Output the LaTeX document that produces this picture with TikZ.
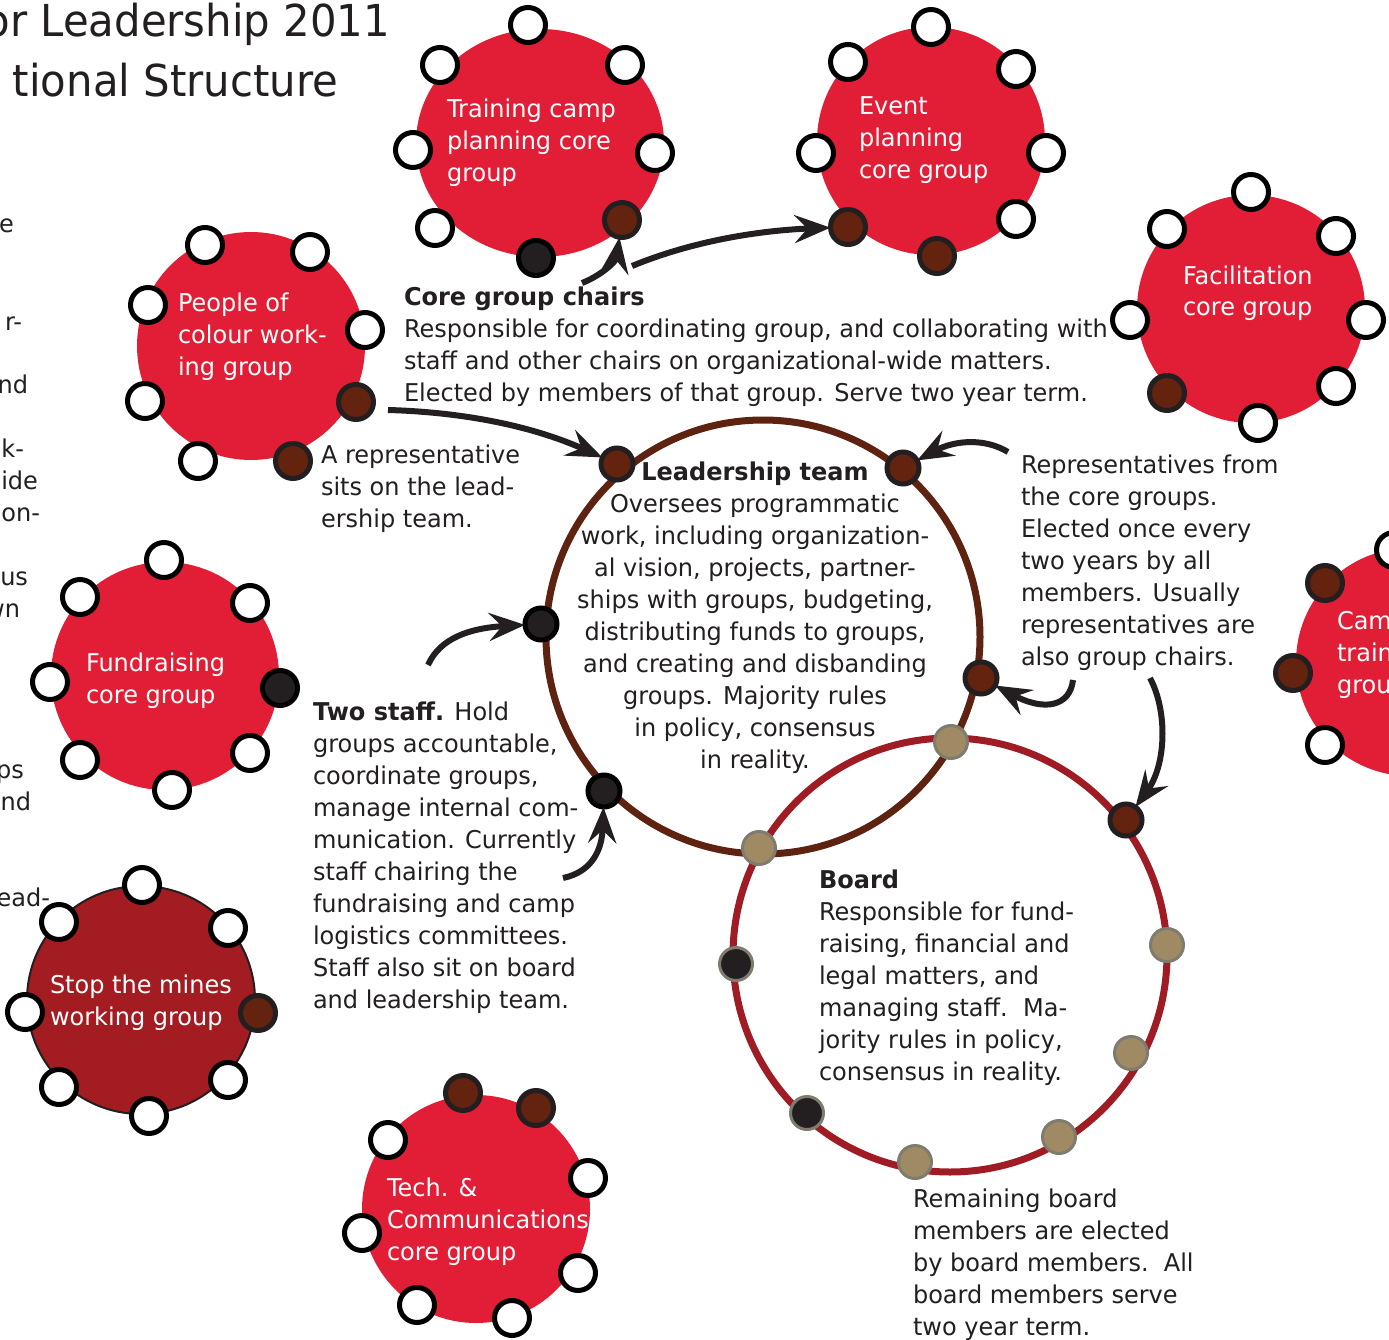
\documentclass[tikz,border=0pt]{standalone}
\usepackage{fontspec}
\setmainfont{DejaVu Sans}[FakeStretch=0.98]
\newfontfamily\titlefont{DejaVu Sans}[FakeStretch=0.95]
\usetikzlibrary{arrows.meta,shapes.geometric}
\definecolor{txt}{HTML}{231F20}
\definecolor{grp}{HTML}{E21E36}
\definecolor{grpdark}{HTML}{A21C22}
\definecolor{chair}{HTML}{64230F}
\definecolor{ltring}{HTML}{5E2210}
\definecolor{bdring}{HTML}{A01C24}
\definecolor{tanfill}{HTML}{A08A64}
\definecolor{tanedge}{HTML}{7E7C6E}
\begin{document}
\begin{tikzpicture}[x=1pt,y=-1pt,
  every node/.style={inner sep=0pt, outer sep=0pt},
  grpdisc/.style={circle, fill=grp, minimum size=228pt},
  grplabel/.style={text=white, align=left, anchor=base west, font=\fontsize{24.5}{32}\selectfont},
  member/.style={circle, draw=black, line width=5pt, fill=white, minimum size=35pt},
  chairdot/.style={circle, draw=txt, line width=5pt, fill=chair, minimum size=35pt},
  staffdot/.style={circle, draw=black, line width=5pt, fill=txt, minimum size=35pt},
  leaddot/.style={circle, draw=txt, line width=5pt, fill=chair, minimum size=32pt},
  bdmember/.style={circle, draw=tanedge, line width=3pt, fill=tanfill, minimum size=33pt},
  bdstaff/.style={circle, draw=tanedge, line width=3pt, fill=txt, minimum size=33pt},
  ring/.style={circle, line width=7pt, minimum size=434pt},
  body/.style={text=txt, align=left, anchor=base west, font=\fontsize{24.5}{32}\selectfont},
  frag/.style={text=txt, anchor=base east, font=\fontsize{24.5}{32}\selectfont},
  arr/.style={draw=txt, line width=6pt, -{Stealth[length=36pt,width=28pt,inset=13pt]}}
]
\useasboundingbox (0,0) rectangle (1389,1340);
\fill[white] (0,0) rectangle (1389,1340);

% title (cut at the left edge)
\node[text=txt, anchor=base east, font=\titlefont\fontsize{44}{57}\selectfont] (title1) at (390,37) {or Leadership 2011};
\node[text=txt, anchor=base east, font=\titlefont\fontsize{44}{57}\selectfont] (title2) at (338,97) {tional Structure};

% left text fragments (cut at the left edge)
\node[frag] (f1) at (14,233) {e};
\node[frag] (f2) at (22,330) {r-};
\node[frag] (f3) at (28,393) {nd};
\node[frag] (f4) at (24,457) {k-};
\node[frag] (f5) at (38,489) {ide};
\node[frag] (f6) at (40,521) {on-};
\node[frag] (f7) at (28,585) {us};
\node[frag] (f8) at (20,617) {wn};
\node[frag] (f9) at (24,778) {ps};
\node[frag] (f10) at (31,810) {nd};
\node[frag] (f11) at (50,906) {ead-};

% group discs
\node[grpdisc, ellipse, minimum width=248pt, minimum height=228pt] (gTrain) at (540,143) {};
\node[grpdisc] (gEvent) at (931,141) {};
\node[grpdisc] (gFac) at (1251,309) {};
\node[grpdisc] (gPoc) at (251,346) {};
\node[grpdisc] (gFund) at (165,676) {};
\node[grpdisc, fill=grpdark, draw=txt, line width=2pt] (gMines) at (141,1000) {};
\node[grpdisc] (gTech) at (476,1209) {};
\node[grpdisc] (gCamp) at (1410,662) {};

% leadership team and board rings
\node[ring, draw=ltring] (lead) at (763,637) {};
\node[ring, draw=bdring] (board) at (950,955) {};

% group labels (anchor = baseline of last line)
\node[grplabel] (lTrain) at (447,182) {Training camp\\planning core\\group};
\node[grplabel] (lEvent) at (859,179) {Event\\planning\\core group};
\node[grplabel] (lFac) at (1183,316) {Facilitation\\core group};
\node[grplabel] (lPoc) at (178,375) {People of\\colour work-\\ing group};
\node[grplabel] (lFund) at (86,703) {Fundraising\\core group};
\node[grplabel] (lMines) at (50,1025) {Stop the mines\\working group};
\node[grplabel] (lTech) at (387,1260) {Tech. \&\\Communications\\core group};
\node[grplabel] (lCamp) at (1337,693) {Cam\\train\\grou};

% training camp dots
\node[member] (t1) at (528,25) {};
\node[member] (t2) at (440,65) {};
\node[member] (t3) at (625,65) {};
\node[member] (t4) at (413,150) {};
\node[member] (t5) at (655,153) {};
\node[member] (t6) at (435,228) {};
\node[chairdot] (tC) at (622,220) {};
\node[staffdot] (tS) at (536,258) {};
% event dots
\node[member] (e1) at (931,27) {};
\node[member] (e2) at (848,62) {};
\node[member] (e3) at (1016,69) {};
\node[member] (e4) at (816,153) {};
\node[member] (e5) at (1046,153) {};
\node[member] (e6) at (1016,219) {};
\node[chairdot] (eC) at (848,227) {};
\node[chairdot] (eR) at (937,256) {};
% facilitation dots
\node[member] (a1) at (1251,192) {};
\node[member] (a2) at (1167,229) {};
\node[member] (a3) at (1336,236) {};
\node[member] (a4) at (1130,320) {};
\node[member] (a5) at (1366,320) {};
\node[member] (a6) at (1336,386) {};
\node[chairdot] (aC) at (1167,393) {};
\node[member] (a7) at (1258,423) {};
% people of colour dots
\node[member] (p1) at (205,245) {};
\node[member] (p2) at (310,252) {};
\node[member] (p3) at (148,305) {};
\node[member] (p4) at (365,330) {};
\node[member] (p5) at (145,401) {};
\node[chairdot] (pC) at (356,402) {};
\node[member] (p6) at (198,461) {};
\node[chairdot] (pR) at (293,461) {};
% fundraising dots
\node[member] (u1) at (164,560) {};
\node[member] (u2) at (80,597) {};
\node[member] (u3) at (250,603) {};
\node[member] (u4) at (50,682) {};
\node[staffdot] (uS) at (280,688) {};
\node[member] (u5) at (80,760) {};
\node[member] (u6) at (250,753) {};
\node[member] (u7) at (172,790) {};
% stop the mines dots
\node[member] (m1) at (142,885) {};
\node[member] (m2) at (59,922) {};
\node[member] (m3) at (228,928) {};
\node[member] (m4) at (25,1012) {};
\node[chairdot] (mC) at (258,1013) {};
\node[member] (m5) at (59,1087) {};
\node[member] (m6) at (228,1080) {};
\node[member] (m7) at (149,1116) {};
% tech dots
\node[chairdot] (hC) at (463,1093) {};
\node[chairdot] (hR) at (536,1108) {};
\node[member] (h1) at (388,1140) {};
\node[member] (h2) at (588,1178) {};
\node[member] (h3) at (362,1233) {};
\node[member] (h4) at (578,1273) {};
\node[member] (h5) at (417,1305) {};
\node[member] (h6) at (512,1318) {};
% camp training dots
\node[member] (c1) at (1394,550) {};
\node[chairdot] (cC) at (1325,583) {};
\node[chairdot] (cR) at (1293,673) {};
\node[member] (c2) at (1325,745) {};

% leadership team dots
\node[leaddot] (L1) at (617,464) {};
\node[leaddot] (L2) at (903,468) {};
\node[staffdot, minimum size=32pt] (LS1) at (541,624) {};
\node[leaddot] (L3) at (981,678) {};
\node[staffdot, minimum size=32pt] (LS2) at (604,791) {};
% board dots
\node[bdmember] (B1) at (951,742) {};
\node[bdmember] (B2) at (759,848) {};
\node[leaddot] (BR) at (1126,820) {};
\node[bdmember] (B3) at (1167,945) {};
\node[bdstaff] (BS1) at (736,964) {};
\node[bdmember] (B4) at (1131,1053) {};
\node[bdstaff] (BS2) at (807,1113) {};
\node[bdmember] (B5) at (1059,1137) {};
\node[bdmember] (B6) at (915,1162) {};

% arrow start points
\coordinate (sA) at (582,283);
\coordinate (sB) at (632,266);
\coordinate (sC) at (388,410);
\coordinate (sD) at (1008,452);
\coordinate (sE) at (428,665);
\coordinate (sF) at (563,878);
\coordinate (sG) at (1073,680);
\coordinate (sH) at (1150,678);

\draw[arr] (sA) .. controls (600,276) and (616,262) .. (tC);
\draw[arr] (sB) .. controls (700,238) and (770,230) .. (eC);
\draw[arr] (sC) .. controls (460,412) and (530,425) .. (L1);
\draw[arr] (sD) .. controls (985,438) and (955,440) .. (L2);
\draw[arr] (sE) .. controls (440,638) and (470,628) .. (LS1);
\draw[arr] (sF) .. controls (592,872) and (602,850) .. (LS2);
\draw[arr] (sG) .. controls (1070,706) and (1045,712) .. (L3);
\draw[arr] (sH) .. controls (1168,712) and (1166,765) .. (BR);

% text blocks (anchor = baseline of last line)
\node[body] (tChairs) at (404,401) {{\bfseries Core group chairs}\\Responsible for coordinating group, and collaborating with\\staff and other chairs on organizational-wide matters.\\Elected by members of that group. Serve two year term.};
\node[body] (tRep) at (321,527) {A representative\\sits on the lead-\\ership team.};
\node[body, align=center, anchor=base] (tLead) at (755,768) {\textbf{Leadership team}\\Oversees programmatic\\work, including organization-\\al vision, projects, partner-\\ships with groups, budgeting,\\distributing funds to groups,\\and creating and disbanding\\groups. Majority rules\\in policy, consensus\\in reality.};
\node[body] (tReps) at (1021,665) {Representatives from\\the core groups.\\Elected once every\\two years by all\\members. Usually\\representatives are\\also group chairs.};
\node[body] (tStaff) at (313,1008) {\textbf{Two staff.} Hold\\groups accountable,\\coordinate groups,\\manage internal com-\\munication. Currently\\staff chairing the\\fundraising and camp\\logistics committees.\\Staff also sit on board\\and leadership team.};
\node[body] (tBoard) at (819,1080) {\textbf{Board}\\Responsible for fund-\\raising, financial and\\legal matters, and\\managing staff.\ \ Ma-\\jority rules in policy,\\consensus in reality.};
\node[body] (tRemain) at (913,1335) {Remaining board\\members are elected\\by board members.\ \ All\\board members serve\\two year term.};
\end{tikzpicture}
\end{document}
